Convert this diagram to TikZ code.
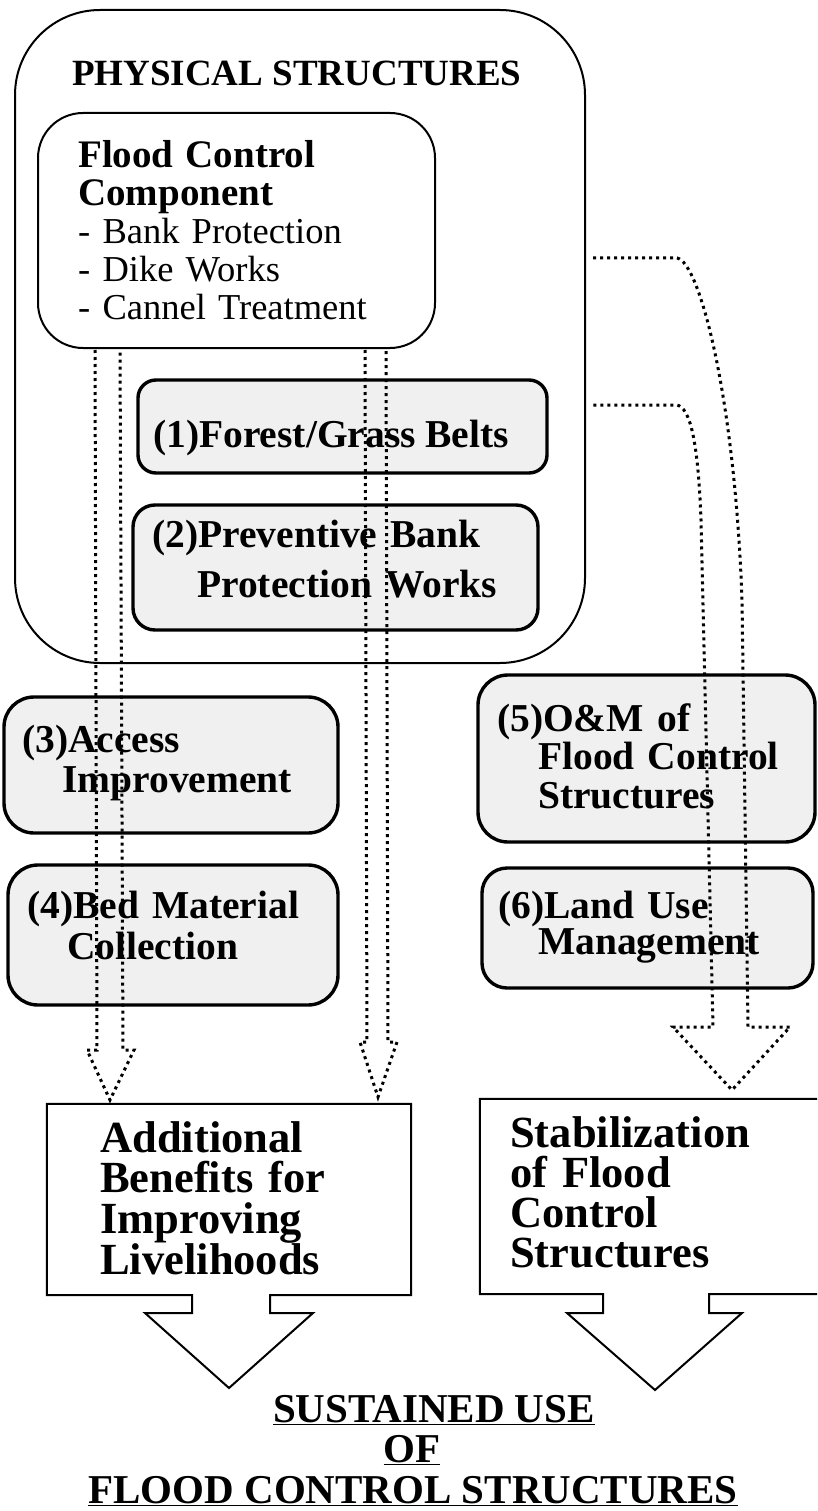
\documentclass[tikz,border=0pt]{standalone}
\usepackage{fontspec}
\setmainfont{Liberation Serif}
\newcommand\fsz[2]{\fontsize{#1}{#2}\selectfont\lineskiplimit=-100pt\relax}
\begin{document}
\begin{tikzpicture}[x=1pt,y=-1pt,
  plainbox/.style={draw, line width=2pt, inner sep=0pt},
  shadebox/.style={draw, line width=3.4pt, fill=black!6, inner sep=0pt},
  txtone/.style={anchor=base west, inner sep=0pt},
  txtblk/.style={anchor=base west, inner sep=0pt, align=left, text width=#1},
  txtblk/.default=380pt,
  midtxt/.style={anchor=base, inner sep=0pt, font=\fsz{41}{41}\bfseries},
  dotline/.style={line width=3pt, dash pattern=on 3pt off 4pt},
  bigline/.style={line width=2pt, line join=miter}]
\useasboundingbox (0,0) rectangle (817,1511);
\clip (0,0) rectangle (817,1511);
\fill[white] (0,0) rectangle (817,1511);

% outer container
\node[plainbox, rounded corners=85pt, minimum width=570pt, minimum height=653pt] (outer) at (300,336.5) {};
\node[txtone, font=\fsz{37}{37}\bfseries] (title) at (72,86) {PHYSICAL STRUCTURES};

% flood control component
\node[plainbox, rounded corners=45pt, minimum width=397pt, minimum height=235pt] (flood) at (236.5,230.5) {};
\node[txtblk=350pt, font=\fsz{36.5}{38}] (fc) at (78,168)
  {{\fontsize{39}{38}\selectfont\bfseries Flood Control\\Component}\\- Bank Protection\\- Dike Works\\- Cannel Treatment};

% shaded boxes
\node[shadebox, rounded corners=18pt, minimum width=409pt, minimum height=93pt] (b1) at (342.5,426.5) {};
\node[shadebox, rounded corners=22pt, minimum width=405pt, minimum height=125pt] (b2) at (335.5,567.5) {};
\node[shadebox, rounded corners=30pt, minimum width=334pt, minimum height=136pt] (b3) at (171,765) {};
\node[shadebox, rounded corners=30pt, minimum width=330pt, minimum height=140pt] (b4) at (173,935) {};
\node[shadebox, rounded corners=30pt, minimum width=337pt, minimum height=167pt] (b5) at (646.5,758.5) {};
\node[shadebox, rounded corners=25pt, minimum width=331pt, minimum height=120pt] (b6) at (647.5,928) {};

\node[txtone, font=\fsz{39.5}{40}\bfseries] (t1) at (153,447) {(1)Forest/Grass Belts};
\node[txtblk, font=\fsz{39.5}{40}\bfseries] (t2) at (152,547)
  {(2)Preventive Bank\\[10pt]\hspace*{45pt}Protection Works};
\node[txtblk, font=\fsz{39.5}{40}\bfseries] (t3) at (22,752)
  {(3)Access\\\hspace*{40pt}Improvement};
\node[txtblk, font=\fsz{39.5}{41}\bfseries] (t4) at (27,918)
  {(4)Bed Material\\\hspace*{40pt}Collection};
\node[txtblk=300pt, font=\fsz{39.5}{38.5}\bfseries] (t5) at (497,731)
  {(5)O\&M of\\\hspace*{41pt}Flood Control\\\hspace*{41pt}Structures};
\node[txtblk=300pt, font=\fsz{39.5}{36}\bfseries] (t6) at (498,918)
  {(6)Land Use\\\hspace*{40pt}Management};

% result boxes with big arrows
\node[inner sep=0pt, minimum width=364pt, minimum height=191pt] (add) at (229,1199.5) {};
\coordinate (tipA) at (229,1388);
\draw[bigline] (add.north west) -- (add.north east) -- (add.south east)
  -- (270,1295) -- (270,1313) -- (313,1313) -- (tipA) -- (145,1313)
  -- (192,1313) -- (192,1295) -- (add.south west) -- cycle;
\node[txtblk=300pt, font=\fsz{44.5}{40.8}\bfseries] (addtxt) at (100,1152)
  {Additional\\Benefits for\\Improving\\Livelihoods};

\node[inner sep=0pt, minimum width=360pt, minimum height=195pt] (stab) at (660,1196.5) {};
\coordinate (tipB) at (655,1390);
\draw[bigline] (stab.north west) -- (stab.north east) -- (stab.south east)
  -- (709,1294) -- (709,1313) -- (742,1313) -- (tipB) -- (567,1313)
  -- (603,1313) -- (603,1294) -- (stab.south west) -- cycle;
\node[txtblk=300pt, font=\fsz{44.5}{40.3}\bfseries] (stabtxt) at (510,1147)
  {Stabilization\\of Flood\\Control\\Structures};

% bottom title
\node[midtxt] (u1) at (434,1422) {\underline{SUSTAINED USE}};
\node[midtxt] (u2) at (412,1462) {\underline{OF}};
\node[midtxt] (u3) at (413,1503) {\underline{FLOOD CONTROL STRUCTURES}};

% dotted connectors
\coordinate (L1) at (95,350);
\coordinate (L2) at (120,350);
\coordinate (tipL) at (110,1100);
\draw[dotline] (L1) -- (97,1050) -- (87,1050) -- (tipL) -- (134,1050) -- (123,1050) -- (L2);

\coordinate (M1) at (365,350);
\coordinate (M2) at (386,350);
\coordinate (tipM) at (378,1097);
\draw[dotline] (M1) -- (367,1042) -- (360,1042) -- (tipM) -- (397,1042) -- (388,1042) -- (M2);

\coordinate (R1) at (593,258);
\coordinate (R2) at (593,405);
\coordinate (tipR) at (732,1090);
\draw[dotline] (R1) -- (677,258) .. controls (700,262) and (735,400) .. (742,600)
  -- (748,1027) -- (790,1027) -- (tipR) -- (673,1027) -- (713,1027)
  -- (701,520) .. controls (698,440) and (690,408) .. (677,405) -- (R2);
\end{tikzpicture}
\end{document}
